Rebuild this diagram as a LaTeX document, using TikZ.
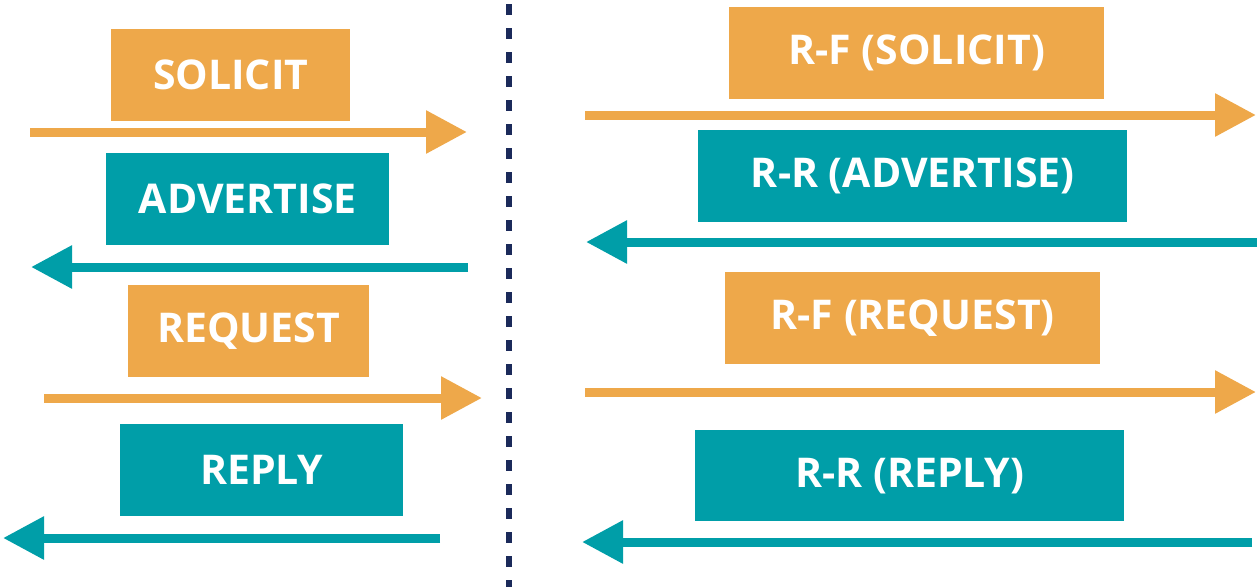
\documentclass[tikz,border=0pt]{standalone}
\usepackage{fontspec}
\setmainfont{Open Sans}
\usetikzlibrary{arrows.meta}
\definecolor{orng}{HTML}{EEA84A}
\definecolor{teal2}{HTML}{009EA8}
\definecolor{navy}{HTML}{1B2A5A}
\tikzset{
  msgbox/.style={fill=#1, text=white, inner sep=0pt, anchor=north west,
    minimum height=92pt, font=\fontsize{41}{49}\selectfont\bfseries},
  msgarrow/.style={draw=#1, line width=9pt,
    -{Triangle[length=41pt,width=41pt]}},
}
\begin{document}
\begin{tikzpicture}[x=1pt,y=-1pt]
\useasboundingbox (0,0) rectangle (1257,587);
% left boxes
\node[msgbox=orng, minimum width=239pt] (solicit) at (111,29) {SOLICIT};
\node[msgbox=teal2, minimum width=283pt] (advert) at (106,153) {ADVERTISE};
\node[msgbox=orng, minimum width=241pt] (request) at (128,285) {REQUEST};
\node[msgbox=teal2, minimum width=283pt] (reply) at (120,424) {REPLY};
% right boxes
\node[msgbox=orng, minimum width=375pt] (rfsol) at (729,7) {R-F (SOLICIT)};
\node[msgbox=teal2, minimum width=429pt] (rradv) at (698,130) {R-R (ADVERTISE)};
\node[msgbox=orng, minimum width=375pt] (rfreq) at (725,272) {R-F (REQUEST)};
\node[msgbox=teal2, minimum width=429pt, minimum height=91pt] (rrrep) at (695,430) {R-R (REPLY)};
% arrow end points
\coordinate (a1s) at (30,132);   \coordinate (a1e) at (467,132);
\coordinate (a2s) at (468,267);  \coordinate (a2e) at (31,267);
\coordinate (a3s) at (44,398);   \coordinate (a3e) at (482,398);
\coordinate (a4s) at (440,538);  \coordinate (a4e) at (3,538);
\coordinate (b1s) at (585,115);  \coordinate (b1e) at (1256,115);
\coordinate (b2s) at (1257,242); \coordinate (b2e) at (586,242);
\coordinate (b3s) at (585,392);  \coordinate (b3e) at (1256,392);
\coordinate (b4s) at (1252,542); \coordinate (b4e) at (582,542);
\draw[msgarrow=orng] (a1s) -- (a1e);
\draw[msgarrow=teal2] (a2s) -- (a2e);
\draw[msgarrow=orng] (a3s) -- (a3e);
\draw[msgarrow=teal2] (a4s) -- (a4e);
\draw[msgarrow=orng] (b1s) -- (b1e);
\draw[msgarrow=teal2] (b2s) -- (b2e);
\draw[msgarrow=orng] (b3s) -- (b3e);
\draw[msgarrow=teal2] (b4s) -- (b4e);
% divider
\coordinate (dtop) at (509,4);
\coordinate (dbot) at (509,587);
\draw[navy, line width=6pt, dash pattern=on 11pt off 13pt] (dtop) -- (dbot);
\end{tikzpicture}
\end{document}
